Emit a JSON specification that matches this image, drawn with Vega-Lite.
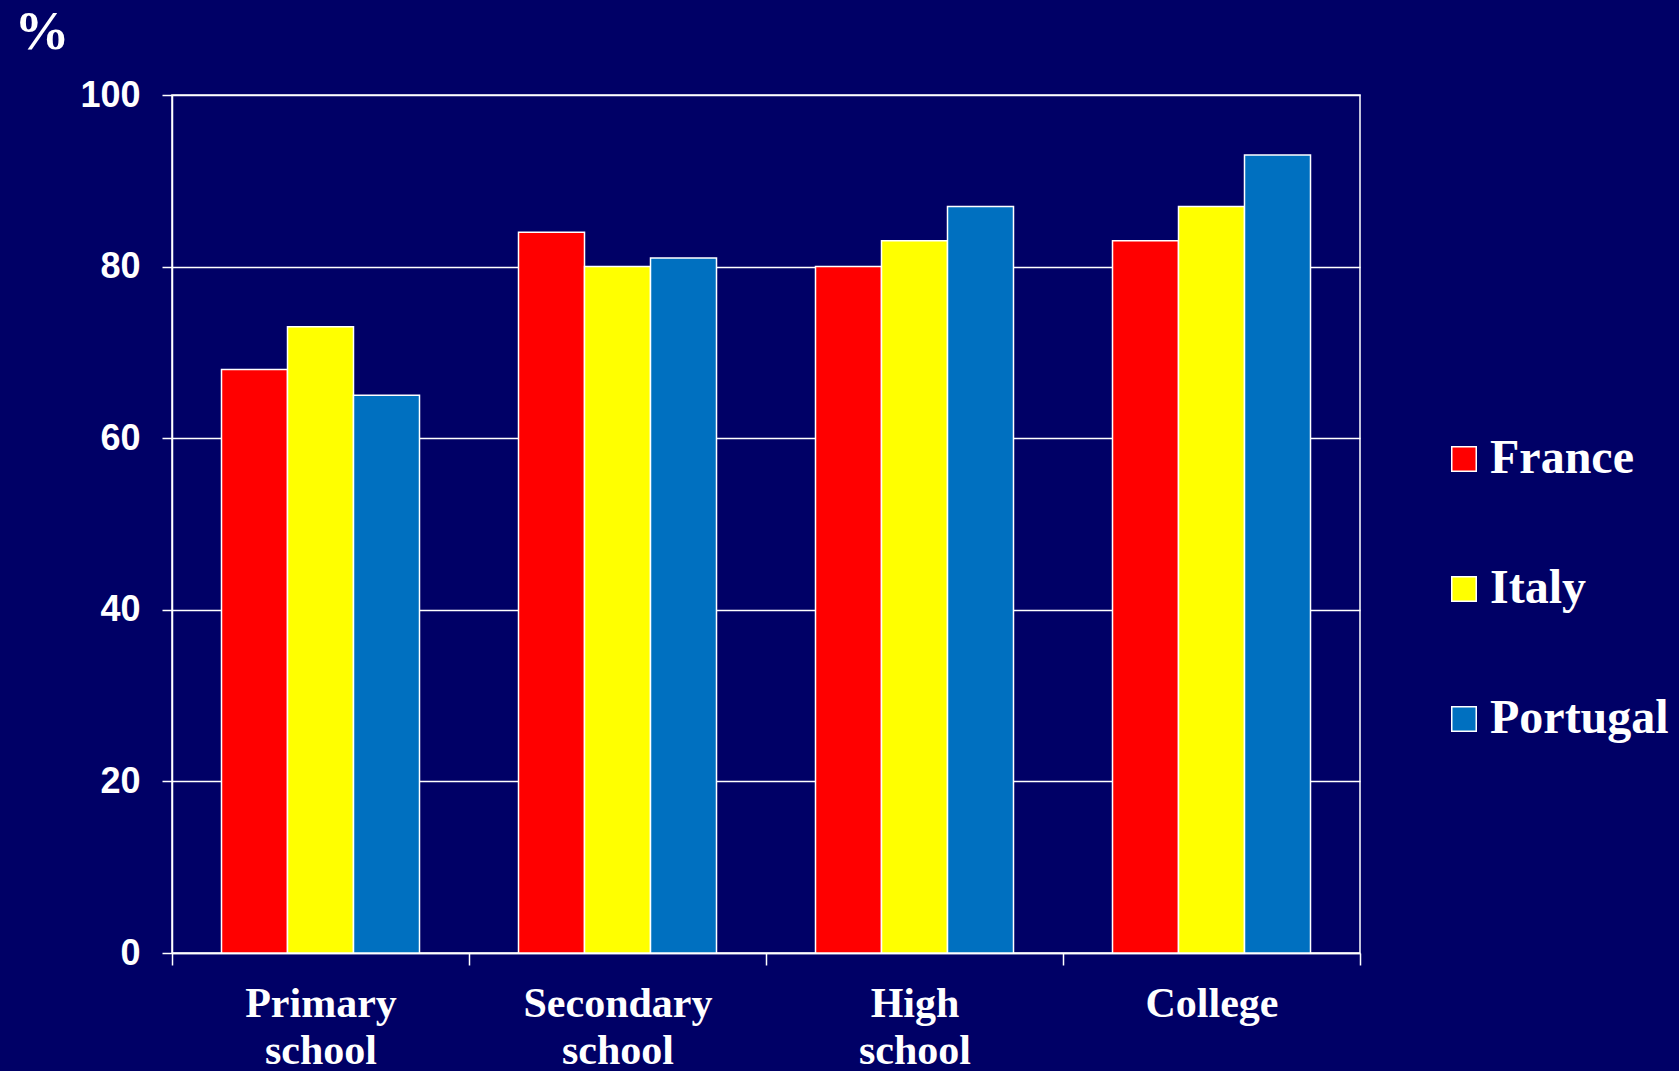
{
  "$schema": "https://vega.github.io/schema/vega-lite/v6.json",
  "width": 1188,
  "height": 858,
  "autosize": "none",
  "padding": {"left": 172, "top": 95, "right": 319, "bottom": 118},
  "background": "#000066",
  "data": {
    "values": [
      {"level": "Primary school", "country": "France", "pct": 68},
      {"level": "Primary school", "country": "Italy", "pct": 73},
      {"level": "Primary school", "country": "Portugal", "pct": 65},
      {"level": "Secondary school", "country": "France", "pct": 84},
      {"level": "Secondary school", "country": "Italy", "pct": 80},
      {"level": "Secondary school", "country": "Portugal", "pct": 81},
      {"level": "High school", "country": "France", "pct": 80},
      {"level": "High school", "country": "Italy", "pct": 83},
      {"level": "High school", "country": "Portugal", "pct": 87},
      {"level": "College", "country": "France", "pct": 83},
      {"level": "College", "country": "Italy", "pct": 87},
      {"level": "College", "country": "Portugal", "pct": 93}
    ]
  },
  "mark": {"type": "bar", "stroke": "white", "strokeWidth": 1.5},
  "encoding": {
    "x": {
      "field": "level",
      "type": "nominal",
      "sort": ["Primary school", "Secondary school", "High school", "College"],
      "scale": {"paddingInner": 0, "paddingOuter": 0},
      "axis": {
        "title": null,
        "labelAngle": 0,
        "labelExpr": "split(datum.label, ' ')",
        "labelFont": "Liberation Serif",
        "labelFontWeight": "bold",
        "labelFontSize": 42,
        "labelLineHeight": 47,
        "labelColor": "white",
        "labelBaseline": "top",
        "labelPadding": 18,
        "labelLimit": 400,
        "tickBand": "extent",
        "tickSize": 12,
        "tickColor": "white",
        "tickWidth": 1.5,
        "domainColor": "white",
        "domainWidth": 1.5,
        "grid": false
      }
    },
    "xOffset": {
      "field": "country",
      "type": "nominal",
      "sort": ["France", "Italy", "Portugal"],
      "scale": {"paddingInner": 0, "paddingOuter": 0.75}
    },
    "y": {
      "field": "pct",
      "type": "quantitative",
      "scale": {"domain": [0, 100], "nice": false},
      "axis": {
        "title": "%",
        "titleAngle": 0,
        "titleX": -158,
        "titleY": -47,
        "titleAlign": "left",
        "titleBaseline": "alphabetic",
        "titleFont": "Liberation Serif",
        "titleFontWeight": "bold",
        "titleFontSize": 55,
        "titleColor": "white",
        "values": [0, 20, 40, 60, 80, 100],
        "labelFont": "Liberation Sans",
        "labelFontWeight": "bold",
        "labelFontSize": 36,
        "labelColor": "white",
        "labelPadding": 22,
        "tickSize": 10,
        "tickColor": "white",
        "tickWidth": 1.5,
        "domainColor": "white",
        "domainWidth": 1.5,
        "grid": true,
        "gridColor": "white",
        "gridWidth": 1.5,
        "gridOpacity": 1
      }
    },
    "color": {
      "field": "country",
      "type": "nominal",
      "sort": ["France", "Italy", "Portugal"],
      "scale": {"domain": ["France", "Italy", "Portugal"], "range": ["#ff0000", "#ffff00", "#0070c0"]},
      "legend": {
        "title": null,
        "orient": "none",
        "legendX": 1268,
        "legendY": 340,
        "padding": 0,
        "symbolType": "square",
        "symbolSize": 600,
        "symbolStrokeColor": "white",
        "symbolStrokeWidth": 1.5,
        "symbolOpacity": 1,
        "labelFont": "Liberation Serif",
        "labelFontWeight": "bold",
        "labelFontSize": 48,
        "labelColor": "white",
        "labelOffset": 2,
        "labelLimit": 400,
        "rowPadding": 82
      }
    }
  },
  "config": {
    "view": {"stroke": "white", "strokeWidth": 1.5}
  }
}
